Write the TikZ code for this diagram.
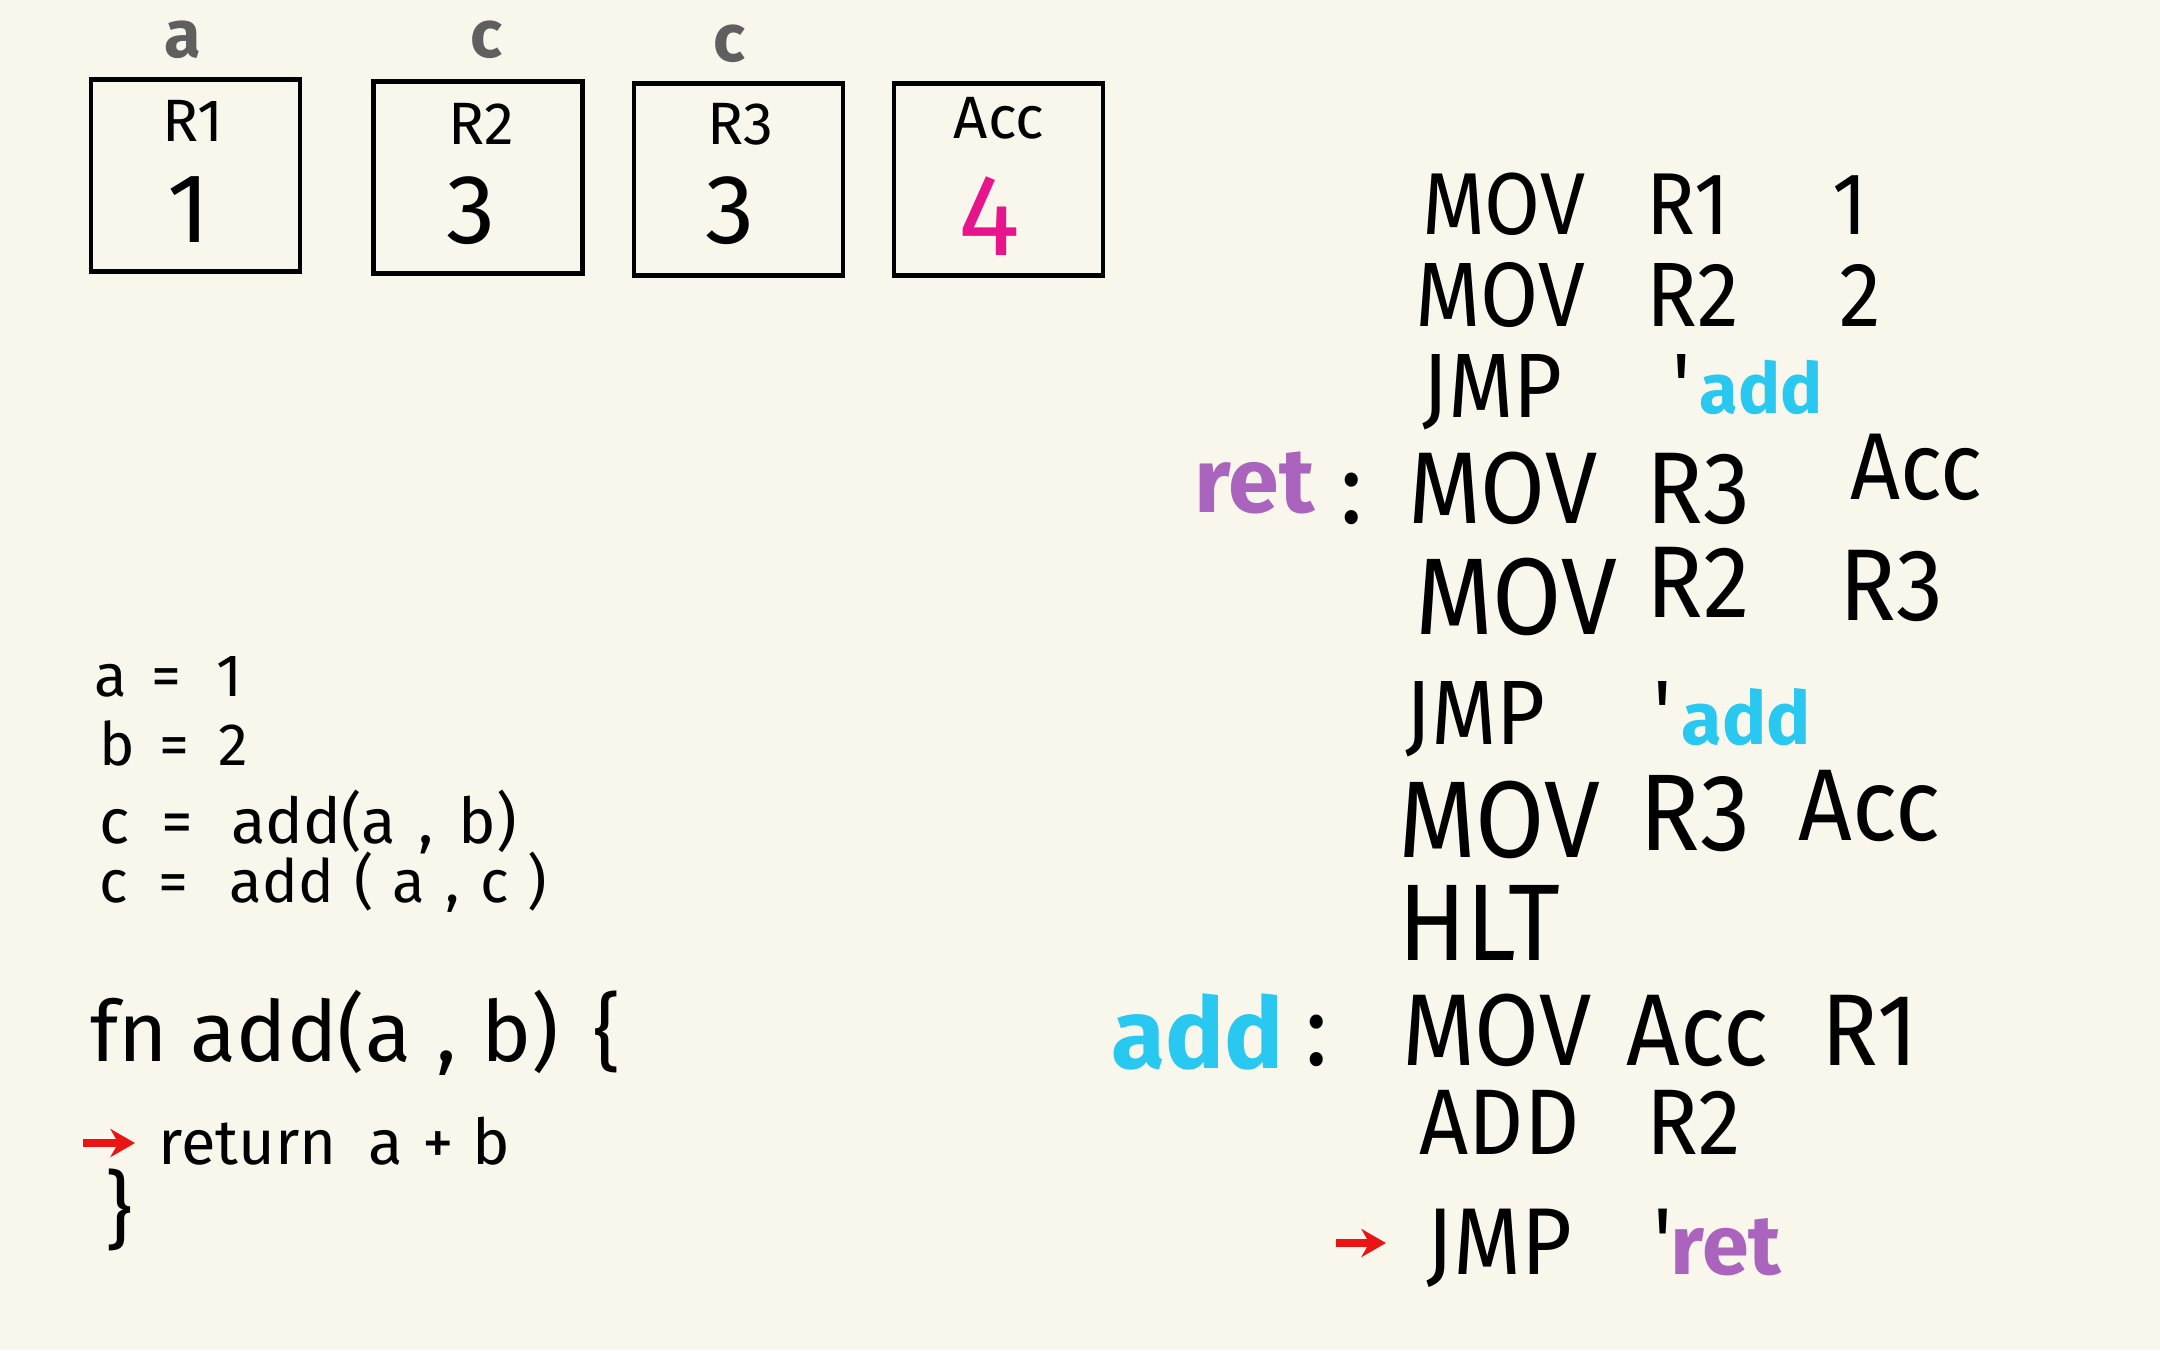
\documentclass[tikz,border=0pt]{standalone}
\usepackage{fontspec}
\setmainfont{Fira Sans}
\newfontfamily\hand[FakeStretch=0.92]{Fira Sans}
\usetikzlibrary{arrows.meta}
\definecolor{bg}{RGB}{249,247,236}
\definecolor{labelgray}{RGB}{95,95,95}
\definecolor{addcyan}{RGB}{40,200,240}
\definecolor{retpurple}{RGB}{170,100,190}
\definecolor{accmagenta}{RGB}{232,20,140}
\definecolor{arrowred}{RGB}{235,20,20}
\tikzset{
  reg/.style={draw=black, line width=1.3pt, minimum width=2.09cm, minimum height=1.92cm, inner sep=0},
  regname/.style={font=\fontsize{17}{20}\selectfont, inner sep=0},
  regval/.style={font=\fontsize{#1}{#1}\selectfont, inner sep=0},
  regval/.default=28,
  varlbl/.style={font=\bfseries\fontsize{19}{22}\selectfont, text=labelgray, inner sep=0},
  asm/.style={anchor=base west, inner sep=0, font=\hand\fontsize{#1}{#1}\selectfont},
  asm/.default=28,
  lbl/.style={anchor=base west, inner sep=0, font=\bfseries\fontsize{#1}{#1}\selectfont},
  lbl/.default=20,
  code/.style={anchor=base west, inner sep=0, font=\fontsize{#1}{#1}\selectfont},
  code/.default=17,
  redarrow/.style={draw=arrowred, line width=2.2pt, -{Stealth[length=7pt,width=8pt]}}
}
\begin{document}
\begin{tikzpicture}[x=0.01cm, y=-0.01cm]
\fill[bg] (0,0) rectangle (2160,1350);
\useasboundingbox (0,0) rectangle (2160,1350);

% registers
\node[reg] (r1) at (195.5,175.5) {};
\node[reg] (r2) at (478,177.5) {};
\node[reg] (r3) at (738.5,179.5) {};
\node[reg] (acc) at (998.5,179.5) {};
\node[regname] (r1n) at (193,121) {R1};
\node[regval] (r1v) at (189,210) {1};
\node[regname] (r2n) at (481,124) {R2};
\node[regval] (r2v) at (471,211) {3};
\node[regname] (r3n) at (740,124) {R3};
\node[regval] (r3v) at (730,211) {3};
\node[regname] (accn) at (999,118) {Acc};
\node[regval=33, text=accmagenta] (accv) at (989,216) {4};
\node[varlbl] (va) at (183,40) {a};
\node[varlbl] (vc1) at (486,40) {c};
\node[varlbl] (vc2) at (729,44) {c};

% assembly
\node[asm=25] (l1a) at (1422,234) {MOV};
\node[asm=25] (l1b) at (1646,234) {R1};
\node[asm=25] (l1c) at (1832,234) {1};

\node[asm=26] (l2a) at (1415,326) {MOV};
\node[asm=26] (l2b) at (1646,326) {R2};
\node[asm=26] (l2c) at (1839,326) {2};

\node[asm=26] (l3a) at (1422,417) {JMP};
\node[asm=26] (l3b) at (1672,417) {'};
\node[lbl=20, text=addcyan] (l3c) at (1699,413) {add};

\node[lbl=26, text=retpurple] (retlbl) at (1194,512) {ret};
\node[asm=29] (l4colon) at (1340,523) {:};
\node[asm=29] (l4a) at (1408,523) {MOV};
\node[asm=29] (l4b) at (1646,523) {R3};
\node[asm=27] (l4c) at (1850,499) {Acc};

\node[asm=31] (l5a) at (1415,634) {MOV};
\node[asm=29] (l5b) at (1646,617) {R2};
\node[asm=29] (l5c) at (1839,620) {R3};

\node[asm=26] (l6a) at (1405,744) {JMP};
\node[asm=26] (l6b) at (1653,744) {'};
\node[lbl=21, text=addcyan] (l6c) at (1681,744) {add};

\node[asm=31] (l7a) at (1398,857) {MOV};
\node[asm=31] (l7b) at (1639,850) {R3};
\node[asm=29] (l7c) at (1798,840) {Acc};

\node[asm=31] (l8a) at (1398,960) {HLT};

\node[lbl=28, text=addcyan] (addlbl) at (1111,1068) {add};
\node[asm=29] (l9colon) at (1305,1065) {:};
\node[asm=29] (l9a) at (1402,1065) {MOV};
\node[asm=29] (l9b) at (1626,1065) {Acc};
\node[asm=29] (l9c) at (1821,1065) {R1};

\node[asm=26.5] (l10a) at (1419,1154) {ADD};
\node[asm=26.5] (l10b) at (1646,1154) {R2};

\node[asm=27] (l11a) at (1426,1274) {JMP};
\node[asm=27] (l11b) at (1653,1274) {'};
\node[lbl=24, text=retpurple] (l11c) at (1670,1274) {ret};
\coordinate (arR) at (1336,1243);
\draw[redarrow, shorten >=0.4cm] (arR) -- (arR -| l11a.west);

% source code
\node[code] (c1) at (94,696) {a\hspace{0.4em}=\hspace{0.6em}1};
\node[code] (c2) at (99,765) {b\hspace{0.4em}=\hspace{0.5em}2};
\node[code=18] (c3) at (99,843) {c\hspace{0.5em}=\hspace{0.6em}add(a\hspace{0.35em},\hspace{0.4em}b)};
\node[code=17] (c4) at (99,902) {c\hspace{0.5em}=\hspace{0.7em}add\hspace{0.35em}(\hspace{0.3em}a\hspace{0.35em},\hspace{0.35em}c\hspace{0.3em})};
\node[code=24] (c5) at (90,1061) {fn add(a\hspace{0.3em},\hspace{0.3em}b)\hspace{0.4em}\{};
\node[code=18] (c6) at (158,1164) {return\hspace{0.5em}a\hspace{0.3em}+\hspace{0.3em}b};
\node[code=24, anchor=center] (c7) at (119,1210) {\}};
\coordinate (arL) at (83,1143);
\draw[redarrow, shorten >=0.23cm] (arL) -- (arL -| c6.west);
\end{tikzpicture}
\end{document}
